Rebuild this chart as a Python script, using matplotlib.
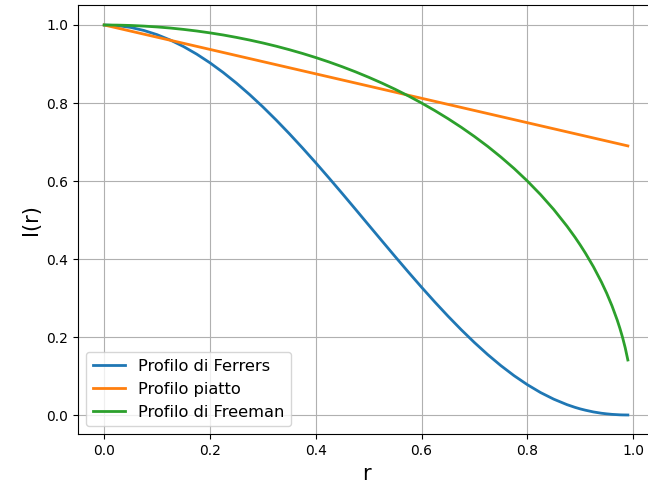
import matplotlib
matplotlib.use("Agg")
import matplotlib.pyplot as plt

r = [0.0, 0.025, 0.05, 0.075, 0.1, 0.125, 0.15, 0.175, 0.2, 0.225, 0.25, 0.275,
     0.3, 0.325, 0.35, 0.375, 0.4, 0.425, 0.45, 0.475, 0.5, 0.525, 0.55, 0.575,
     0.6, 0.625, 0.65, 0.675, 0.7, 0.725, 0.75, 0.775, 0.8, 0.825, 0.85, 0.875,
     0.89, 0.9, 0.91, 0.925, 0.94, 0.95, 0.96, 0.97, 0.975, 0.98, 0.985, 0.99]

ferrers = [1.0, 0.9984, 0.9938, 0.9860, 0.9752, 0.9614, 0.9447, 0.9252, 0.9030,
           0.8782, 0.8510, 0.8215, 0.7900, 0.7565, 0.7213, 0.6846, 0.6467, 0.6077,
           0.5680, 0.5277, 0.4871, 0.4466, 0.4063, 0.3666, 0.3277, 0.2899, 0.2535,
           0.2187, 0.1858, 0.1550, 0.1266, 0.1008, 0.0778, 0.0576, 0.0406, 0.0266,
           0.0197, 0.0157, 0.0123, 0.0079, 0.0046, 0.0030, 0.0017, 0.0009, 0.0005,
           0.0003, 0.0002, 0.0001]

piatto_r = [0.0, 0.99]
piatto = [1.0, 0.69]

freeman = [1.0, 0.9997, 0.9988, 0.9972, 0.9950, 0.9922, 0.9887, 0.9846, 0.9798,
           0.9744, 0.9682, 0.9614, 0.9539, 0.9457, 0.9367, 0.9270, 0.9165, 0.9052,
           0.8930, 0.8800, 0.8660, 0.8511, 0.8352, 0.8182, 0.8000, 0.7806, 0.7599,
           0.7378, 0.7141, 0.6888, 0.6614, 0.6320, 0.6000, 0.5651, 0.5268, 0.4841,
           0.4560, 0.4359, 0.4146, 0.3800, 0.3412, 0.3123, 0.2800, 0.2431, 0.2222,
           0.1990, 0.1726, 0.1411]

fig = plt.figure(figsize=(6.48, 4.91), dpi=100)
ax = fig.add_axes([0.1204, 0.1151, 0.8889, 0.8737])
ax.plot(r, ferrers, lw=2, label="Profilo di Ferrers")
ax.plot(piatto_r, piatto, lw=2, label="Profilo piatto")
ax.plot(r, freeman, lw=2, label="Profilo di Freeman")
ax.spines['right'].set_visible(False)
ax.grid(True)
ax.set_xlabel("r", fontsize=15)
ax.set_ylabel("I(r)", fontsize=15)
ax.legend(loc="lower left", fontsize=11.7)
fig.savefig("out.png", dpi=100)
